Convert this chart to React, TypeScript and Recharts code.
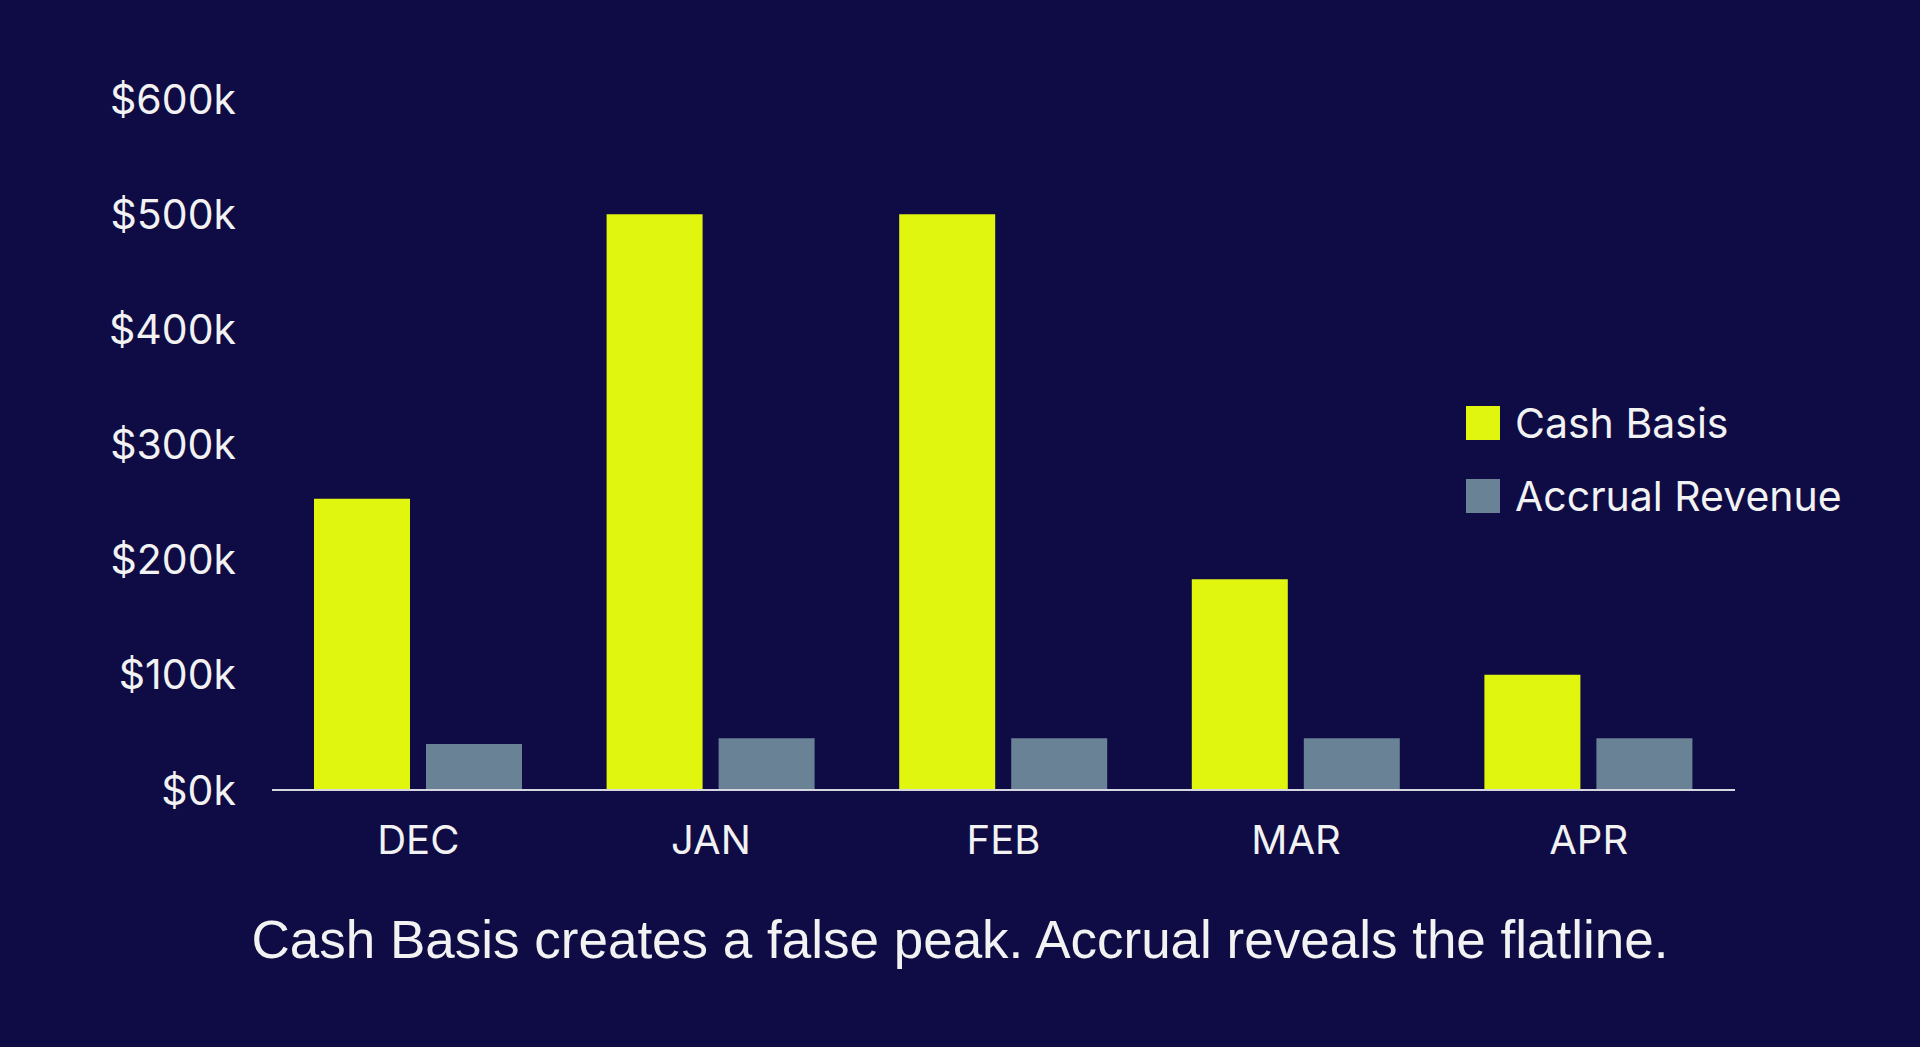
import React from "react";
import { BarChart, Bar, XAxis, YAxis } from "recharts";

const months = ["DEC", "JAN", "FEB", "MAR", "APR"];
const cashBasis = [253000, 500000, 500000, 183000, 100000];
const accrualRevenue = [40000, 45000, 45000, 45000, 45000];
const yTicks = [0, 100000, 200000, 300000, 400000, 500000, 600000];
const caption = "Cash Basis creates a false peak. Accrual reveals the flatline.";

const BG = "#0e0b45";
const YELLOW = "#e1f60f";
const SLATE = "#6a8296";
const TEXT = "#f2f2f2";
const FONT = "Inter, 'Noto Sans', sans-serif";

const data = months.map((m, i) => ({
  month: m,
  cash: cashBasis[i],
  accrual: accrualRevenue[i],
}));

const legendItems = [
  { name: "Cash Basis", color: YELLOW },
  { name: "Accrual Revenue", color: SLATE },
];

export default function App() {
  return (
    <div
      style={{
        position: "fixed",
        left: 0,
        top: 0,
        width: 1920,
        height: 1047,
        background: BG,
        overflow: "hidden",
      }}
    >
      <BarChart
        width={1920}
        height={1047}
        data={data}
        margin={{ top: 99, right: 185, bottom: 197, left: 0 }}
        barCategoryGap={42}
        barGap={16}
      >
        <XAxis
          dataKey="month"
          height={60}
          axisLine={{ stroke: "#d6d6e0", strokeWidth: 2 }}
          tickLine={false}
          tickSize={0}
          tickMargin={36}
          tick={{ fill: TEXT, fontSize: 40, fontFamily: FONT }}
        />
        <YAxis
          width={272}
          domain={[0, 600000]}
          ticks={yTicks}
          axisLine={false}
          tickLine={false}
          tickSize={0}
          tickMargin={36}
          tickFormatter={(v: number) => `$${v / 1000}k`}
          tick={{ fill: TEXT, fontSize: 41, fontFamily: FONT }}
        />
        <Bar dataKey="cash" fill={YELLOW} isAnimationActive={false} />
        <Bar dataKey="accrual" fill={SLATE} isAnimationActive={false} />
      </BarChart>

      {/* legend */}
      <div style={{ position: "absolute", left: 1466, top: 386, fontFamily: FONT }}>
        {legendItems.map((it) => (
          <div key={it.name} style={{ display: "flex", alignItems: "center", height: 73 }}>
            <div style={{ width: 34, height: 34, background: it.color, marginRight: 15 }} />
            <span style={{ color: TEXT, fontSize: 41 }}>{it.name}</span>
          </div>
        ))}
      </div>

      <div
        style={{
          position: "absolute",
          left: 0,
          top: 905,
          width: 1920,
          textAlign: "center",
          color: TEXT,
          fontFamily: "'Liberation Sans', Arial, sans-serif",
          fontSize: 53,
          lineHeight: "70px",
        }}
      >
        {caption}
      </div>
    </div>
  );
}
